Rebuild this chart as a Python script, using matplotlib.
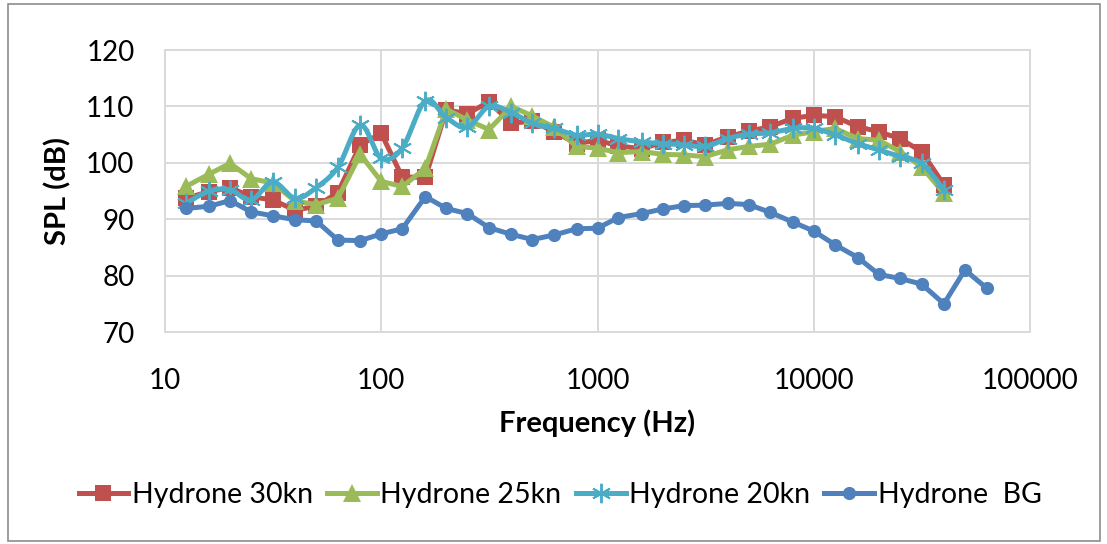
import numpy as np
import matplotlib
matplotlib.use("Agg")
import matplotlib.pyplot as plt
from matplotlib.patches import Rectangle

plt.rcParams['font.family'] = ['Lato', 'DejaVu Sans']

freqs = [12.5, 16, 20, 25, 31.5, 40, 50, 63, 80, 100, 125, 160, 200, 250, 315, 400,
         500, 630, 800, 1000, 1250, 1600, 2000, 2500, 3150, 4000, 5000, 6300, 8000,
         10000, 12500, 16000, 20000, 25000, 31500, 40000]
freqs_bg = freqs + [50000, 63000]

spl_30kn = [93.7, 94.9, 95.6, 94.0, 93.4, 91.6, 92.3, 94.7, 103.2, 105.2, 97.5, 97.4,
            109.4, 108.7, 110.8, 107.0, 107.4, 105.5, 103.4, 104.0, 103.0, 102.5, 103.6,
            104.0, 103.2, 104.6, 105.6, 106.4, 107.9, 108.4, 108.2, 106.4, 105.5, 104.3,
            102.0, 96.1]
spl_25kn = [95.8, 98.0, 99.9, 97.2, 96.4, 93.2, 92.6, 93.7, 101.5, 96.7, 95.8, 99.0,
            109.5, 107.6, 105.9, 110.0, 108.3, 106.3, 102.9, 102.6, 101.8, 102.0, 101.5,
            101.4, 101.1, 102.3, 102.9, 103.3, 104.9, 105.5, 106.1, 104.3, 104.0, 102.0,
            99.3, 94.6]
spl_20kn = [92.8, 95.0, 95.2, 93.4, 96.6, 93.7, 95.6, 99.2, 106.7, 100.8, 102.6, 111.0,
            108.0, 106.3, 110.0, 108.9, 107.0, 106.1, 104.9, 105.1, 104.3, 103.7, 103.4,
            103.2, 102.9, 104.3, 105.1, 105.3, 106.1, 106.1, 105.0, 103.4, 102.3, 101.1,
            99.9, 95.2]
spl_bg = [91.9, 92.3, 93.3, 91.3, 90.6, 89.9, 89.7, 86.3, 86.2, 87.4, 88.3, 94.0, 91.9,
          91.0, 88.5, 87.3, 86.4, 87.2, 88.3, 88.4, 90.3, 91.0, 91.8, 92.4, 92.5, 92.8,
          92.6, 91.2, 89.5, 87.9, 85.5, 83.2, 80.2, 79.5, 78.5, 75.0, 81.0, 77.8]

labels = ["Hydrone 30kn", "Hydrone 25kn", "Hydrone 20kn", "Hydrone  BG"]
colors = ["#C0504D", "#9BBB59", "#4BACC6", "#4F81BD"]
xticks = [10, 100, 1000, 10000, 100000]
yticks = [70, 80, 90, 100, 110, 120]


def smooth(x, y, n=20):
    lx = np.log10(np.asarray(x, float))
    y = np.asarray(y, float)
    P = np.column_stack([lx, y])
    out = [P[0]]
    for i in range(len(P) - 1):
        p0 = P[i - 1] if i > 0 else P[i]
        p1 = P[i]
        p2 = P[i + 1]
        p3 = P[i + 2] if i + 2 < len(P) else P[i + 1]
        c1 = p1 + (p2 - p0) / 6.0
        c2 = p2 - (p3 - p1) / 6.0
        t = np.linspace(0, 1, n)[1:, None]
        seg = ((1 - t) ** 3) * p1 + 3 * ((1 - t) ** 2) * t * c1 + 3 * (1 - t) * t ** 2 * c2 + t ** 3 * p2
        out.extend(seg)
    out = np.array(out)
    return 10 ** out[:, 0], out[:, 1]


fig = plt.figure(figsize=(11.07, 5.44), dpi=100)
ax = fig.add_axes([165 / 1107, 1 - 332 / 544, (1030 - 165) / 1107, (332 - 50) / 544])

lw = 3.6
h1, = ax.plot(freqs, spl_30kn, color=colors[0], lw=lw, marker='s', ms=11.5,
              markeredgewidth=0, label=labels[0], zorder=3)
h2, = ax.plot(freqs, spl_25kn, color=colors[1], lw=lw, marker='^', ms=13,
              markeredgewidth=0, label=labels[1], zorder=4)
sx, sy = smooth(freqs, spl_20kn)
ax.plot(sx, sy, color=colors[2], lw=lw, zorder=5, solid_capstyle='round')
ax.plot(freqs, spl_20kn, ls='none', marker=(6, 2, 0), ms=14, color=colors[2],
        markeredgewidth=1.4, zorder=5)
h3, = ax.plot([], [], color=colors[2], lw=lw, marker=(6, 2, 0), ms=14,
              markeredgewidth=1.4, label=labels[2])
h4, = ax.plot(freqs_bg, spl_bg, color=colors[3], lw=lw, marker='o', ms=9.5,
              markeredgewidth=0, label=labels[3], zorder=6)

ax.set_xscale('log')
ax.set_xlim(10, 100000)
ax.set_ylim(70, 120)
ax.set_xticks(xticks)
ax.set_xticklabels([str(v) for v in xticks])
ax.set_yticks(yticks)
ax.set_yticklabels([str(v) for v in yticks])
ax.minorticks_off()
ax.tick_params(axis='both', length=0, labelsize=20)
ax.tick_params(axis='x', pad=26)
ax.tick_params(axis='y', pad=22)
ax.grid(True, color='#d9d9d9', lw=1.4)
ax.set_axisbelow(True)
for s in ax.spines.values():
    s.set_color('#d9d9d9')
    s.set_linewidth(1.4)

ax.set_xlabel("Frequency (Hz)", fontsize=21, fontweight='bold')
ax.set_ylabel("SPL (dB)", fontsize=21, fontweight='bold')
ax.xaxis.set_label_coords(0.5, -0.275)
ax.yaxis.set_label_coords(-0.108, 0.5)

fig.legend(handles=[h1, h2, h3, h4], labels=labels, loc='center',
           bbox_to_anchor=(560 / 1107, 1 - 495 / 544), ncol=4, frameon=False,
           fontsize=20.5, handlelength=1.75, columnspacing=0.5, handletextpad=0.12,
           markerscale=1.0)

fig.patches.append(Rectangle((8 / 1107, 3 / 544), (1100 - 8) / 1107, (540 - 3) / 544,
                             transform=fig.transFigure, fill=False,
                             edgecolor='#8c8c8c', lw=1.2))

fig.savefig("out.png", dpi=100, facecolor='white')
